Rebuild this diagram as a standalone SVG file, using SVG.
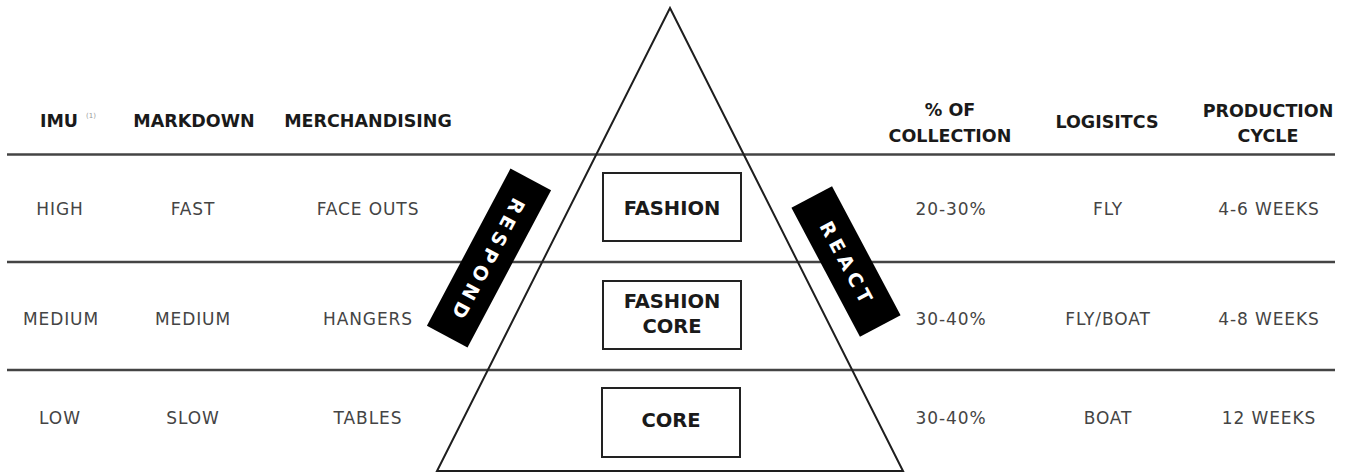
<svg xmlns="http://www.w3.org/2000/svg" width="1353" height="474" viewBox="0 0 1353 474">
  <style>
    .hdr { font-family: "DejaVu Sans", "Liberation Sans", sans-serif; font-weight: bold; font-size: 17.5px; fill: #1a1a1a; text-anchor: middle; }
    .cell { font-family: "DejaVu Sans", "Liberation Sans", sans-serif; font-size: 17px; letter-spacing: 0.9px; fill: #444; text-anchor: middle; }
    .rule { stroke: #444; stroke-width: 2.5; fill: none; }
    .tri { stroke: #1e1e1e; stroke-width: 2; fill: none; stroke-linejoin: miter; }
    .box { stroke: #222; stroke-width: 2; fill: #fff; }
    .boxlbl { font-family: "DejaVu Sans", "Liberation Sans", sans-serif; font-weight: bold; font-size: 19.5px; fill: #1a1a1a; text-anchor: middle; }
    .bar { fill: #000; }
    .barlbl { font-family: "DejaVu Sans", "Liberation Sans", sans-serif; font-weight: bold; font-size: 19px; letter-spacing: 5px; fill: #fff; text-anchor: middle; dominant-baseline: central; }
    .sup { font-family: "DejaVu Sans", sans-serif; font-size: 7px; fill: #999; }
  </style>

  <rect width="1353" height="474" fill="#fff"/>

  <!-- row separators -->
  <g id="connectors">
    <line class="rule" x1="7" y1="154.5" x2="1335" y2="154.5"/>
    <line class="rule" x1="7" y1="262" x2="1335" y2="262"/>
    <line class="rule" x1="7" y1="370" x2="1335" y2="370"/>
  </g>

  <!-- pyramid -->
  <g id="pyramid">
    <polygon class="tri" points="670,8 903,471 437,471"/>
  </g>

  <!-- column headers -->
  <g id="headers">
    <text class="hdr" x="59" y="127">IMU</text>
    <text class="sup" x="86" y="118">(1)</text>
    <text class="hdr" x="194" y="127">MARKDOWN</text>
    <text class="hdr" x="368" y="127">MERCHANDISING</text>
    <text class="hdr" x="950" y="116">% OF</text>
    <text class="hdr" x="950" y="142">COLLECTION</text>
    <text class="hdr" x="1107" y="128">LOGISITCS</text>
    <text class="hdr" x="1268" y="117">PRODUCTION</text>
    <text class="hdr" x="1268" y="142">CYCLE</text>
  </g>

  <!-- row: fashion -->
  <g id="row-fashion">
    <text class="cell" x="60" y="215">HIGH</text>
    <text class="cell" x="193" y="215">FAST</text>
    <text class="cell" x="368" y="215">FACE OUTS</text>
    <text class="cell" x="951" y="215">20-30%</text>
    <text class="cell" x="1108" y="215">FLY</text>
    <text class="cell" x="1269" y="215">4-6 WEEKS</text>
  </g>

  <!-- row: fashion core -->
  <g id="row-fashion-core">
    <text class="cell" x="61" y="325">MEDIUM</text>
    <text class="cell" x="193" y="325">MEDIUM</text>
    <text class="cell" x="368" y="325">HANGERS</text>
    <text class="cell" x="951" y="325">30-40%</text>
    <text class="cell" x="1108" y="325">FLY/BOAT</text>
    <text class="cell" x="1269" y="325">4-8 WEEKS</text>
  </g>

  <!-- row: core -->
  <g id="row-core">
    <text class="cell" x="60" y="424">LOW</text>
    <text class="cell" x="193" y="424">SLOW</text>
    <text class="cell" x="368" y="424">TABLES</text>
    <text class="cell" x="951" y="424">30-40%</text>
    <text class="cell" x="1108" y="424">BOAT</text>
    <text class="cell" x="1269" y="424">12 WEEKS</text>
  </g>

  <!-- tier boxes -->
  <g id="node-fashion">
    <rect class="box" x="603" y="173" width="138" height="68"/>
    <text class="boxlbl" x="672" y="215">FASHION</text>
  </g>
  <g id="node-fashion-core">
    <rect class="box" x="603" y="281" width="138" height="68"/>
    <text class="boxlbl" x="672" y="308">FASHION</text>
    <text class="boxlbl" x="672" y="333">CORE</text>
  </g>
  <g id="node-core">
    <rect class="box" x="602" y="388" width="138" height="69"/>
    <text class="boxlbl" x="671" y="427">CORE</text>
  </g>

  <!-- slanted banners -->
  <g id="node-respond" transform="translate(489,258) rotate(28)">
    <rect class="bar" x="-23" y="-89" width="46" height="178"/>
    <text class="barlbl" transform="rotate(90)" x="3" y="0">RESPOND</text>
  </g>
  <g id="node-react" transform="translate(846,261.5) rotate(-28)">
    <rect class="bar" x="-23" y="-73" width="46" height="146"/>
    <text class="barlbl" transform="rotate(90)" x="3" y="0">REACT</text>
  </g>
</svg>
